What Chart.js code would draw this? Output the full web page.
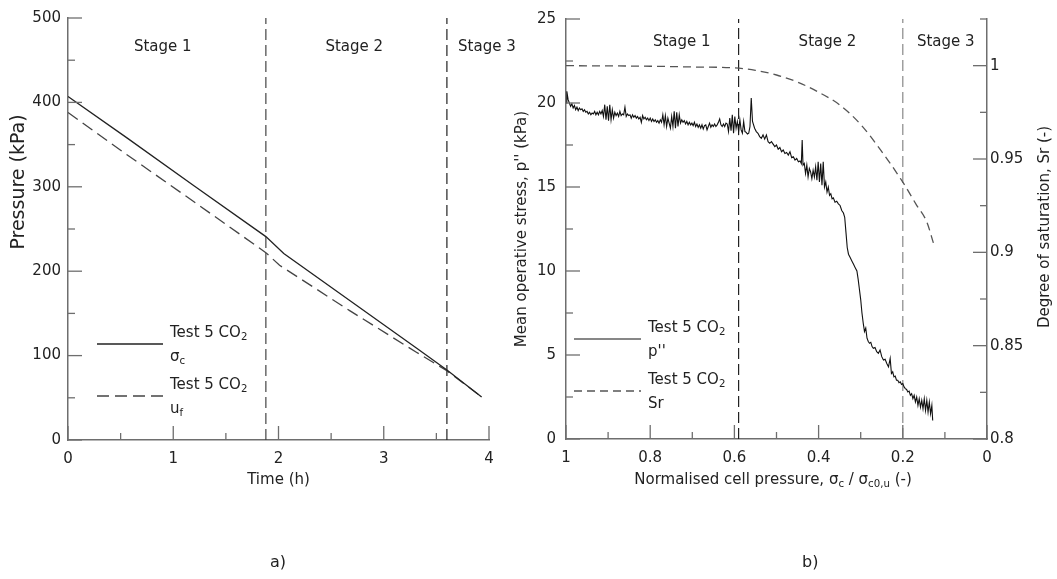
<!DOCTYPE html>
<html>
<head>
<meta charset="utf-8">
<script src="https://cdn.jsdelivr.net/npm/chart.js@4.4.0/dist/chart.umd.min.js"></script>
<style>
  html, body { margin: 0; padding: 0; background: #fff; }
  body { width: 1057px; height: 579px; position: relative; overflow: hidden; font-family: 'DejaVu Sans', sans-serif; }
  #wrapA { position: absolute; left: 0; top: 0; width: 530px; height: 579px; }
  #wrapB { position: absolute; left: 500px; top: 0; width: 557px; height: 579px; }
  .tag { position: absolute; top: 552px; font-size: 16px; color: #222; }
</style>
</head>
<body>
<div id="wrapA"><canvas id="chartA"></canvas></div>
<div id="wrapB"><canvas id="chartB"></canvas></div>
<div class="tag" style="left:270px">a)</div>
<div class="tag" style="left:802px">b)</div>
<script>
// ---- (a) pressure against time ----
const timeSigmaC = [0, 0.56, 1.2, 1.88, 2.05, 2.68, 3.31, 3.6, 3.93];
const sigmaC     = [407, 358, 301, 241, 221, 165, 109, 83, 51];
const timeUf     = [0, 0.56, 1.2, 1.88, 2.01, 2.68, 3.31, 3.6, 3.93];
const uf         = [388, 338, 282, 222, 207, 153, 104, 82, 51];
const stageSplitA = [1.88, 3.6];
const stageNames  = ['Stage 1', 'Stage 2', 'Stage 3'];
const stageXA     = [0.9, 2.72, 3.98];

// ---- (b) mean operative stress and saturation against normalised cell pressure ----
const normPressure = [
  1.000, 0.998, 0.995, 0.992, 0.989, 0.986, 0.983, 0.980, 0.977, 0.974,
  0.971, 0.968, 0.965, 0.962, 0.959, 0.956, 0.953, 0.950, 0.947, 0.944,
  0.941, 0.938, 0.935, 0.932, 0.929, 0.926, 0.923, 0.920, 0.917, 0.914,
  0.911, 0.908, 0.905, 0.902, 0.899, 0.896, 0.893, 0.890, 0.887, 0.884,
  0.881, 0.878, 0.875, 0.872, 0.869, 0.866, 0.863, 0.860, 0.857, 0.854,
  0.851, 0.848, 0.845, 0.842, 0.839, 0.836, 0.833, 0.830, 0.827, 0.824,
  0.821, 0.818, 0.815, 0.812, 0.809, 0.806, 0.803, 0.800, 0.797, 0.794,
  0.791, 0.788, 0.785, 0.782, 0.779, 0.776, 0.773, 0.770, 0.767, 0.764,
  0.761, 0.758, 0.755, 0.752, 0.749, 0.746, 0.743, 0.740, 0.737, 0.734,
  0.731, 0.728, 0.725, 0.722, 0.719, 0.716, 0.713, 0.710, 0.707, 0.704,
  0.701, 0.698, 0.695, 0.692, 0.689, 0.686, 0.683, 0.680, 0.677, 0.674,
  0.671, 0.668, 0.665, 0.662, 0.659, 0.656, 0.653, 0.650, 0.647, 0.644,
  0.641, 0.638, 0.635, 0.632, 0.629, 0.626, 0.623, 0.620, 0.617, 0.614,
  0.611, 0.608, 0.605, 0.602, 0.599, 0.596, 0.593, 0.590, 0.587, 0.584,
  0.581, 0.578, 0.575, 0.572, 0.569, 0.566, 0.563, 0.560, 0.557, 0.552,
  0.548, 0.544, 0.540, 0.536, 0.532, 0.528, 0.524, 0.520, 0.516, 0.512,
  0.508, 0.504, 0.500, 0.496, 0.492, 0.488, 0.484, 0.480, 0.476, 0.472,
  0.468, 0.464, 0.460, 0.456, 0.452, 0.448, 0.444, 0.441, 0.439, 0.437,
  0.434, 0.431, 0.428, 0.425, 0.422, 0.419, 0.416, 0.413, 0.410, 0.407,
  0.404, 0.401, 0.398, 0.395, 0.392, 0.389, 0.386, 0.383, 0.380, 0.377,
  0.374, 0.371, 0.368, 0.365, 0.361, 0.357, 0.353, 0.349, 0.345, 0.341,
  0.338, 0.335, 0.332, 0.329, 0.325, 0.321, 0.317, 0.313, 0.309, 0.306,
  0.303, 0.300, 0.297, 0.294, 0.291, 0.288, 0.285, 0.282, 0.279, 0.276,
  0.273, 0.270, 0.266, 0.262, 0.258, 0.254, 0.250, 0.246, 0.242, 0.238,
  0.234, 0.230, 0.227, 0.224, 0.221, 0.218, 0.215, 0.212, 0.209, 0.206,
  0.203, 0.200, 0.197, 0.194, 0.191, 0.188, 0.185, 0.182, 0.179, 0.176,
  0.173, 0.170, 0.167, 0.164, 0.161, 0.158, 0.155, 0.152, 0.149, 0.146,
  0.143, 0.140, 0.137, 0.134, 0.131, 0.129
];
const pStress = [
  20.0, 20.7, 20.2, 20.0, 19.8, 19.95, 19.7, 19.85, 19.6, 19.75,
  19.55, 19.7, 19.6, 19.65, 19.5, 19.6, 19.45, 19.5, 19.35, 19.45,
  19.3, 19.4, 19.35, 19.5, 19.3, 19.45, 19.3, 19.5, 19.35, 19.55,
  19.2, 19.9, 19.0, 19.8, 18.95, 19.9, 19.0, 19.6, 19.1, 19.45,
  19.25, 19.4, 19.2, 19.5, 19.25, 19.35, 19.3, 19.75, 19.2, 19.35,
  19.25, 19.3, 19.1, 19.3, 19.15, 19.25, 19.1, 19.2, 19.05, 19.15,
  18.85, 19.25, 19.05, 19.15, 19.0, 19.1, 18.95, 19.1, 18.9, 19.05,
  18.9, 19.0, 18.85, 18.95, 18.8, 19.0, 18.85, 19.3, 18.7, 19.25,
  18.6, 19.1, 18.8, 18.5, 19.2, 18.6, 19.5, 18.5, 19.45, 18.6,
  19.3, 18.8, 19.0, 18.85, 18.95, 18.75, 18.9, 18.7, 18.85, 18.7,
  18.8, 18.65, 18.85, 18.6, 18.75, 18.55, 18.7, 18.5, 18.7, 18.45,
  18.65, 18.7, 18.4, 18.6, 18.8, 18.55, 18.7, 18.6, 18.75, 18.6,
  18.7, 18.85, 19.05, 18.7, 18.6, 18.75, 18.6, 18.8, 18.75, 18.3,
  19.1, 18.35, 19.3, 18.2, 19.2, 18.5, 18.9, 18.3, 19.0, 18.4,
  18.2, 18.9, 18.3, 18.25, 18.15, 18.2, 18.6, 20.3, 18.9, 18.5,
  18.3, 18.2, 18.0, 17.9, 18.1, 17.85, 18.1, 17.7, 17.6, 17.7,
  17.55, 17.4, 17.5, 17.25, 17.35, 17.1, 17.2, 17.0, 17.05, 16.9,
  17.1, 16.75, 16.8, 16.6, 16.7, 16.5, 16.55, 16.4, 17.8, 16.3,
  16.4, 15.8, 16.3, 15.6, 16.1, 15.9, 15.5, 16.0, 15.6, 16.2,
  15.4, 16.5, 15.3, 16.4, 15.1, 16.5, 15.0, 15.3, 14.7, 15.0,
  14.5, 14.6, 14.3, 14.35, 14.1, 14.15, 14.0, 13.9, 13.6, 13.45,
  13.2, 12.3, 11.4, 11.0, 10.8, 10.6, 10.4, 10.2, 10.0, 9.5,
  8.9, 8.3, 7.5, 6.9, 6.4, 6.6, 6.0, 5.8, 5.7, 5.75,
  5.5, 5.4, 5.45, 5.2, 5.1, 5.3, 4.9, 4.7, 4.75, 4.5,
  4.3, 4.8, 3.9, 4.0, 3.7, 3.75, 3.5, 3.5, 3.35, 3.4,
  3.25, 3.3, 3.1, 3.0, 2.95, 2.8, 2.85, 2.6, 2.7, 2.4,
  2.6, 2.2, 2.5, 2.0, 2.4, 1.9, 2.3, 1.8, 2.4, 1.7,
  2.3, 1.6, 2.2, 1.5, 2.0, 1.1
];
const srPressure = [1.0, 0.8, 0.7, 0.6, 0.55, 0.5, 0.45, 0.4, 0.35, 0.3, 0.25, 0.2, 0.167, 0.143, 0.127];
const saturation = [1.0, 0.9997, 0.9993, 0.9988, 0.9975, 0.995, 0.9912, 0.9858, 0.979, 0.9685, 0.954, 0.9376, 0.9252, 0.9163, 0.9048];
const stageSplitB = [0.59, 0.2];
const stageXB     = [0.725, 0.379, 0.098];

const FONT = "'DejaVu Sans', sans-serif";
const INK = '#222';
const AXIS = '#6e6e6e';

const toPoints = (xs, ys) => xs.map((x, i) => ({ x: x, y: ys[i] }));
const vLine = (x, top) => [{ x: x, y: 0 }, { x: x, y: top }];

// text with subscripts, parts = [{t, sub}]
function drawRich(ctx, parts, x, y, size, align) {
  ctx.textBaseline = 'middle';
  ctx.textAlign = 'left';
  let w = 0;
  parts.forEach(p => {
    ctx.font = (p.sub ? size * 0.68 : size) + 'px ' + FONT;
    w += ctx.measureText(p.t).width;
  });
  let cx = align === 'center' ? x - w / 2 : x;
  parts.forEach(p => {
    ctx.font = (p.sub ? size * 0.68 : size) + 'px ' + FONT;
    ctx.fillText(p.t, cx, p.sub ? y + size * 0.3 : y);
    cx += ctx.measureText(p.t).width;
  });
}

const sketchPlugin = {
  id: 'sketch',
  afterDraw(chart, args, opts) {
    const ctx = chart.ctx;
    const area = chart.chartArea;
    ctx.save();
    // tick marks point into the plot
    ctx.strokeStyle = AXIS;
    ctx.lineWidth = 1.3;
    Object.values(chart.scales).forEach(scale => {
      scale.ticks.forEach(tick => {
        const len = tick.label === '' ? 7 : 14;
        const p = scale.getPixelForValue(tick.value);
        ctx.beginPath();
        if (scale.position === 'bottom') {
          ctx.moveTo(p, area.bottom); ctx.lineTo(p, area.bottom - len);
        } else if (scale.position === 'left') {
          ctx.moveTo(area.left, p); ctx.lineTo(area.left + len, p);
        } else {
          ctx.moveTo(area.right, p); ctx.lineTo(area.right - len, p);
        }
        ctx.stroke();
      });
    });

    ctx.fillStyle = INK;
    // stage names
    const xs = chart.scales.x, ys = chart.scales.y;
    opts.stageX.forEach((v, i) => {
      drawRich(ctx, [{ t: stageNames[i] }], xs.getPixelForValue(v), ys.getPixelForValue(opts.stageY), 15, 'center');
    });

    // legend
    const lg = opts.legend;
    lg.entries.forEach((e, i) => {
      const ds = chart.data.datasets[e.dataset];
      const ly = lg.y[i];
      ctx.strokeStyle = ds.borderColor;
      ctx.lineWidth = ds.borderWidth;
      ctx.setLineDash(ds.borderDash || []);
      ctx.beginPath();
      ctx.moveTo(lg.x, ly); ctx.lineTo(lg.x + lg.len, ly);
      ctx.stroke();
      ctx.setLineDash([]);
      drawRich(ctx, [{ t: 'Test 5 CO' }, { t: '2', sub: true }], lg.x + lg.len + 7, ly - 11, 15, 'left');
      drawRich(ctx, e.symbol, lg.x + lg.len + 7, ly + 13, 15, 'left');
    });

    // axis titles that need subscripts or a custom place
    (opts.titles || []).forEach(tt => {
      ctx.save();
      ctx.translate(tt.x, tt.y);
      if (tt.rotate) ctx.rotate(-Math.PI / 2);
      drawRich(ctx, tt.parts, 0, 0, tt.size || 15, 'center');
      ctx.restore();
    });
    ctx.restore();
  }
};

const tickFont = { family: FONT, size: 15 };
const baseScale = {
  grid: { display: false, drawTicks: false },
  border: { display: true, color: AXIS, width: 1.5 },
  ticks: { color: INK, font: tickFont, autoSkip: false, maxRotation: 0 }
};

// chart a
new Chart(document.getElementById('chartA'), {
  type: 'scatter',
  data: {
    datasets: [
      { data: toPoints(timeSigmaC, sigmaC), showLine: true, borderColor: '#222', borderWidth: 1.3, pointRadius: 0 },
      { data: toPoints(timeUf, uf), showLine: true, borderColor: '#444', borderWidth: 1.3, borderDash: [12, 6], pointRadius: 0 },
      { data: vLine(stageSplitA[0], 500), showLine: true, borderColor: '#444', borderWidth: 1.2, borderDash: [11, 5], pointRadius: 0 },
      { data: vLine(stageSplitA[1], 500), showLine: true, borderColor: '#222', borderWidth: 1.2, borderDash: [11, 5], pointRadius: 0 }
    ]
  },
  options: {
    responsive: true, maintainAspectRatio: false, animation: false,
    layout: { padding: { top: 18, right: 41, left: 0, bottom: 0 }, autoPadding: false },
    scales: {
      x: {
        ...baseScale, type: 'linear', min: 0, max: 4,
        ticks: { ...baseScale.ticks, stepSize: 0.5, padding: 10, callback: v => Number.isInteger(v) ? String(v) : '' },
        title: { display: true, text: 'Time (h)', color: INK, font: { family: FONT, size: 15 }, padding: { top: 0, bottom: 90 } },
        afterFit: s => { s.height = 139; }
      },
      y: {
        ...baseScale, min: 0, max: 500,
        ticks: { ...baseScale.ticks, stepSize: 50, padding: 7, callback: v => v % 100 === 0 ? String(v) : '' },
        afterFit: s => { s.width = 68; }
      }
    },
    plugins: {
      legend: { display: false },
      tooltip: { enabled: false },
      sketch: {
        stageX: stageXA, stageY: 466,
        legend: { x: 97, len: 66, y: [344, 396], entries: [
          { dataset: 0, symbol: [{ t: 'σ' }, { t: 'c', sub: true }] },
          { dataset: 1, symbol: [{ t: 'u' }, { t: 'f', sub: true }] }
        ] },
        titles: [{ parts: [{ t: 'Pressure (kPa)' }], x: 19, y: 182, rotate: true, size: 19 }]
      }
    }
  },
  plugins: [sketchPlugin]
});

// chart b
new Chart(document.getElementById('chartB'), {
  type: 'scatter',
  data: {
    datasets: [
      { data: toPoints(normPressure, pStress), showLine: true, borderColor: '#111', borderWidth: 1.1, pointRadius: 0, yAxisID: 'y' },
      { data: toPoints(srPressure, saturation), showLine: true, borderColor: '#555', borderWidth: 1.3, borderDash: [8, 5], pointRadius: 0, cubicInterpolationMode: 'monotone', yAxisID: 'y2' },
      { data: vLine(stageSplitB[0], 25), showLine: true, borderColor: '#222', borderWidth: 1.2, borderDash: [11, 5], pointRadius: 0, yAxisID: 'y' },
      { data: vLine(stageSplitB[1], 25), showLine: true, borderColor: '#888', borderWidth: 1.2, borderDash: [11, 5], pointRadius: 0, yAxisID: 'y' }
    ]
  },
  options: {
    responsive: true, maintainAspectRatio: false, animation: false,
    layout: { padding: { top: 16, right: 0, left: 0, bottom: 0 }, autoPadding: false },
    scales: {
      x: {
        ...baseScale, type: 'linear', min: 0, max: 1, reverse: true,
        ticks: { ...baseScale.ticks, stepSize: 0.1, padding: 10, callback: v => { const k = Math.round(v * 10); return k % 2 === 0 ? String(k / 10) : ''; } },
        afterFit: s => { s.height = 140; }
      },
      y: {
        ...baseScale, position: 'left', min: 0, max: 25,
        ticks: { ...baseScale.ticks, stepSize: 2.5, padding: 10, callback: v => v % 5 === 0 ? String(v) : '' },
        title: { display: true, text: "Mean operative stress, p'' (kPa)", color: INK, font: { family: FONT, size: 15 }, padding: { top: 13, bottom: 0 } },
        afterFit: s => { s.width = 66; }
      },
      y2: {
        ...baseScale, position: 'right', min: 0.8, max: 1.025,
        ticks: { ...baseScale.ticks, stepSize: 0.025, padding: 3, callback: v => { const k = Math.round(v * 1000); return k % 50 === 0 ? String(k / 1000) : ''; } },
        afterFit: s => { s.width = 70; }
      }
    },
    plugins: {
      legend: { display: false },
      tooltip: { enabled: false },
      sketch: {
        stageX: stageXB, stageY: 23.6,
        legend: { x: 74, len: 67, y: [339, 391], entries: [
          { dataset: 0, symbol: [{ t: "p''" }] },
          { dataset: 1, symbol: [{ t: 'Sr' }] }
        ] },
        titles: [
          { parts: [{ t: 'Normalised cell pressure, σ' }, { t: 'c', sub: true }, { t: ' / σ' }, { t: 'c0,u', sub: true }, { t: ' (-)' }], x: 273, y: 480 },
          { parts: [{ t: 'Degree of saturation, Sr (-)' }], x: 545, y: 227, rotate: true }
        ]
      }
    }
  },
  plugins: [sketchPlugin]
});
</script>
</body>
</html>
